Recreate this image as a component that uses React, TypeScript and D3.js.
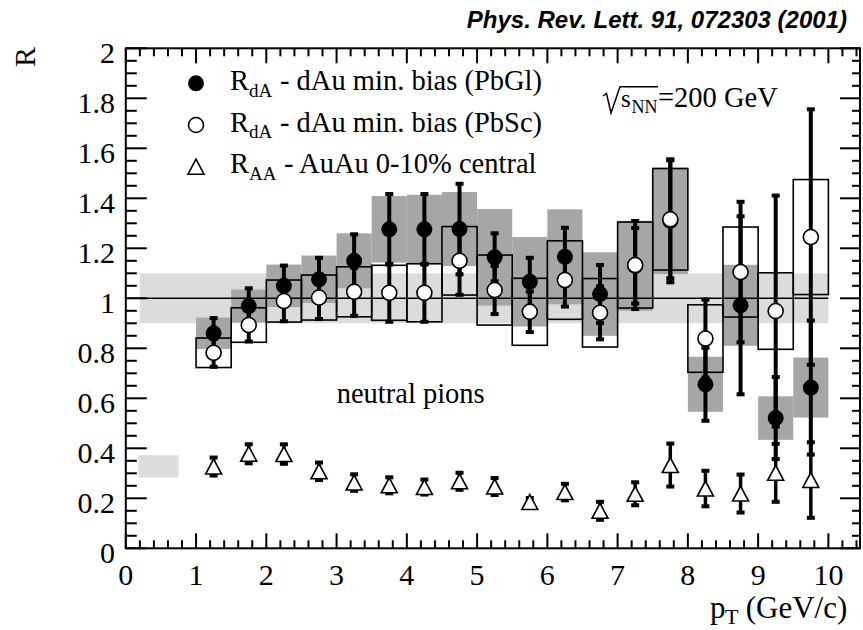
import React from 'react';
import * as d3 from 'd3';

// ---- data ----
const ptBins = [1.25, 1.75, 2.25, 2.75, 3.25, 3.75, 4.25, 4.75, 5.25, 5.75, 6.25, 6.75, 7.25, 7.75, 8.25, 8.75, 9.25, 9.75];
const binHalfWidth = 0.25;

// R_dA dAu min. bias (PbGl) - filled circles, grey boxes
const pbglR = [0.86, 0.969, 1.05, 1.076, 1.15, 1.276, 1.276, 1.277, 1.164, 1.066, 1.166, 1.017, 1.13, 1.31, 0.656, 0.972, 0.521, 0.643];
const pbglStat = [0.065, 0.075, 0.085, 0.09, 0.11, 0.145, 0.145, 0.185, 0.1, 0.1, 0.12, 0.12, 0.155, 0.25, 0.15, 0.36, 0.168, 0.272];
const pbglSys = [0.063, 0.066, 0.085, 0.095, 0.11, 0.133, 0.138, 0.148, 0.193, 0.179, 0.19, 0.167, 0.18, 0.213, 0.11, 0.162, 0.087, 0.12];

// R_dA dAu min. bias (PbSc) - open circles, open boxes
const pbscR = [0.782, 0.893, 0.989, 1.003, 1.026, 1.022, 1.022, 1.15, 1.033, 0.946, 1.073, 0.942, 1.133, 1.316, 0.839, 1.105, 0.949, 1.245];
const pbscStat = [0.06, 0.07, 0.085, 0.09, 0.1, 0.12, 0.12, 0.14, 0.1, 0.085, 0.11, 0.11, 0.18, 0.24, 0.16, 0.285, 0.466, 0.515];
const pbscSys = [0.059, 0.069, 0.084, 0.09, 0.1, 0.11, 0.116, 0.137, 0.14, 0.134, 0.157, 0.137, 0.172, 0.203, 0.135, 0.18, 0.153, 0.23];

// R_AA AuAu 0-10% central - open triangles
const auauR = [0.327, 0.378, 0.377, 0.308, 0.263, 0.252, 0.245, 0.268, 0.247, 0.185, 0.225, 0.15, 0.218, 0.333, 0.239, 0.219, 0.302, 0.273];
const auauStat = [0.04, 0.042, 0.043, 0.039, 0.037, 0.036, 0.034, 0.038, 0.038, 0.02, 0.037, 0.04, 0.05, 0.09, 0.075, 0.08, 0.12, 0.155];

// normalisation uncertainty bands
const dAuNormX = [0.2, 10.0];
const dAuNormY = [0.9, 1.1];
const auauNormX = [0.18, 0.75];
const auauNormY = [0.283, 0.372];

const xTickLabels = [0, 1, 2, 3, 4, 5, 6, 7, 8, 9, 10];
const yTickLabels = [0, 0.2, 0.4, 0.6, 0.8, 1, 1.2, 1.4, 1.6, 1.8, 2];

const legendRows = [
  { sub: 'dA', text: '- dAu min. bias (PbGl)', marker: 'filled' },
  { sub: 'dA', text: '- dAu min. bias (PbSc)', marker: 'open' },
  { sub: 'AA', text: '- AuAu 0-10% central', marker: 'triangle' },
];

const W = 863;
const H = 630;
const SERIF = '"Liberation Serif", "Times New Roman", serif';
const SANS = '"Liberation Sans", Arial, sans-serif';
const DARK = '#a6a6a6';
const LIGHT = '#dcdcdc';

const x = d3.scaleLinear().domain([0, 10.45]).range([125.8, 860]);
const y = d3.scaleLinear().domain([0, 2]).range([548.3, 48.3]);

function ErrorBar({ cx, v, e, w = 4 }: { cx: number; v: number; e: number; w?: number }) {
  const y1 = y(v + e);
  const y2 = y(v - e);
  return (
    <g>
      <line x1={cx} x2={cx} y1={y1} y2={y2} stroke="#000" strokeWidth={w} />
      <rect x={cx - 4} y={y1 - 1} width={8} height={4} fill="#000" />
      <rect x={cx - 4} y={y2 - 3} width={8} height={4} fill="#000" />
    </g>
  );
}

function Triangle({ cx, cy }: { cx: number; cy: number }) {
  const p = `M${cx},${cy - 7.5} L${cx + 8},${cy + 7.5} L${cx - 8},${cy + 7.5} Z`;
  return <path d={p} fill="#fff" stroke="#000" strokeWidth={1.6} strokeLinejoin="miter" />;
}

export default function App() {
  const x0 = x(0);
  const x1 = x(10.45);
  const yTop = y(2);
  const yBot = y(0);

  const xMinor = d3.range(0, 10.45, 0.2);
  const yMinor = d3.range(0, 2.0001, 0.05);

  return (
    <svg width={W} height={H} style={{ position: 'absolute', left: 0, top: 0, background: '#fff' }}>
      <rect width={W} height={H} fill="#fff" />
      {/* normalisation bands */}
      <rect x={x(dAuNormX[0])} width={x(dAuNormX[1]) - x(dAuNormX[0])} y={y(dAuNormY[1])} height={y(dAuNormY[0]) - y(dAuNormY[1])} fill={LIGHT} />
      <rect x={x(auauNormX[0])} width={x(auauNormX[1]) - x(auauNormX[0])} y={y(auauNormY[1])} height={y(auauNormY[0]) - y(auauNormY[1])} fill={LIGHT} />

      {/* PbGl systematic boxes */}
      {ptBins.map((p, i) => (
        <rect key={'gs' + i} x={x(p - binHalfWidth)} width={x(p + binHalfWidth) - x(p - binHalfWidth)}
          y={y(pbglR[i] + pbglSys[i])} height={y(pbglR[i] - pbglSys[i]) - y(pbglR[i] + pbglSys[i])} fill={DARK} />
      ))}
      {/* PbSc systematic boxes */}
      {ptBins.map((p, i) => (
        <rect key={'ss' + i} x={x(p - binHalfWidth)} width={x(p + binHalfWidth) - x(p - binHalfWidth)}
          y={y(pbscR[i] + pbscSys[i])} height={y(pbscR[i] - pbscSys[i]) - y(pbscR[i] + pbscSys[i])}
          fill="none" stroke="#000" strokeWidth={1.6} />
      ))}

      {/* unity line */}
      <line x1={x0} x2={x(10)} y1={y(1)} y2={y(1)} stroke="#000" strokeWidth={1.5} />

      {/* error bars */}
      {ptBins.map((p, i) => <ErrorBar key={'ge' + i} cx={x(p)} v={pbglR[i]} e={pbglStat[i]} />)}
      {ptBins.map((p, i) => <ErrorBar key={'se' + i} cx={x(p)} v={pbscR[i]} e={pbscStat[i]} />)}
      {ptBins.map((p, i) => <ErrorBar key={'ae' + i} cx={x(p)} v={auauR[i]} e={auauStat[i]} w={3.5} />)}

      {/* markers */}
      {ptBins.map((p, i) => <circle key={'gm' + i} cx={x(p)} cy={y(pbglR[i])} r={8} fill="#000" />)}
      {ptBins.map((p, i) => <circle key={'sm' + i} cx={x(p)} cy={y(pbscR[i])} r={7.5} fill="#fff" stroke="#000" strokeWidth={1.6} />)}
      {ptBins.map((p, i) => <Triangle key={'am' + i} cx={x(p)} cy={y(auauR[i])} />)}

      {/* frame */}
      <rect x={x0} y={yTop} width={x1 - x0} height={yBot - yTop} fill="none" stroke="#000" strokeWidth={2} />

      {/* x ticks */}
      {xMinor.map((v, i) => {
        const major = Math.abs(v - Math.round(v)) < 1e-6;
        const len = major ? 15 : 8;
        return (
          <g key={'xt' + i}>
            <line x1={x(v)} x2={x(v)} y1={yBot} y2={yBot - len} stroke="#000" strokeWidth={2} />
            <line x1={x(v)} x2={x(v)} y1={yTop} y2={yTop + len} stroke="#000" strokeWidth={2} />
          </g>
        );
      })}
      {/* y ticks */}
      {yMinor.map((v, i) => {
        const major = Math.abs(v * 5 - Math.round(v * 5)) < 1e-6;
        return (
          <g key={'yt' + i}>
            <line x1={x0} x2={x0 + (major ? 21 : 11)} y1={y(v)} y2={y(v)} stroke="#000" strokeWidth={2} />
            <line x1={x1} x2={x1 - (major ? 20 : 8)} y1={y(v)} y2={y(v)} stroke="#000" strokeWidth={2} />
          </g>
        );
      })}

      {/* tick labels */}
      {xTickLabels.map((v) => (
        <text key={'xl' + v} x={x(v)} y={585} textAnchor="middle" fontFamily={SERIF} fontSize={30} fill="#000">{v}</text>
      ))}
      {yTickLabels.map((v) => (
        <text key={'yl' + v} x={115} y={y(v) + 14.5} textAnchor="end" fontFamily={SERIF} fontSize={30} fill="#000">{d3.format('~g')(v)}</text>
      ))}

      {/* axis titles */}
      <text transform="translate(35,47) rotate(-90)" textAnchor="end" fontFamily={SERIF} fontSize={30} fill="#000">R</text>
      <text x={710} y={617.5} fontFamily={SERIF} fontSize={31} fill="#000">
        p<tspan x={725} dy={6} fontSize={22}>T</tspan><tspan x={738} dy={-6}> (GeV/c)</tspan>
      </text>

      {/* publication reference */}
      <text x={847} y={28} textAnchor="end" fontFamily={SANS} fontWeight="bold" fontStyle="italic" fontSize={24} fill="#000">
        Phys. Rev. Lett. 91, 072303 (2001)
      </text>

      {/* legend */}
      {legendRows.map((r, i) => {
        const cy = 83.3 + i * 41.7;
        const base = 90 + i * 41.7;
        return (
          <g key={'lg' + i}>
            {r.marker === 'filled' && <circle cx={196} cy={cy} r={8} fill="#000" />}
            {r.marker === 'open' && <circle cx={196} cy={cy} r={7.5} fill="#fff" stroke="#000" strokeWidth={1.6} />}
            {r.marker === 'triangle' && <Triangle cx={196} cy={cy} />}
            <text x={230} y={base} fontFamily={SERIF} fontSize={28.5} fill="#000">
              R<tspan x={249} dy={6.5} fontSize={19}>{r.sub}</tspan>
              <tspan x={r.sub === 'AA' ? 284 : 280} dy={-6.5}>{r.text}</tspan>
            </text>
          </g>
        );
      })}

      {/* sqrt(s_NN) */}
      <path d="M603,96 L606.5,93.5 L611,113 L620,86.7 L658,86.7" fill="none" stroke="#000" strokeWidth={1.5} />
      <text x={621} y={107.3} fontFamily={SERIF} fontSize={25} fill="#000">
        s<tspan x={631.5} dy={6} fontSize={18}>NN</tspan>
        <tspan x={658} dy={-6} fontSize={28.5}>=200 GeV</tspan>
      </text>

      {/* annotation */}
      <text x={336.7} y={403.3} fontFamily={SERIF} fontSize={28.5} fill="#000">neutral pions</text>
    </svg>
  );
}
